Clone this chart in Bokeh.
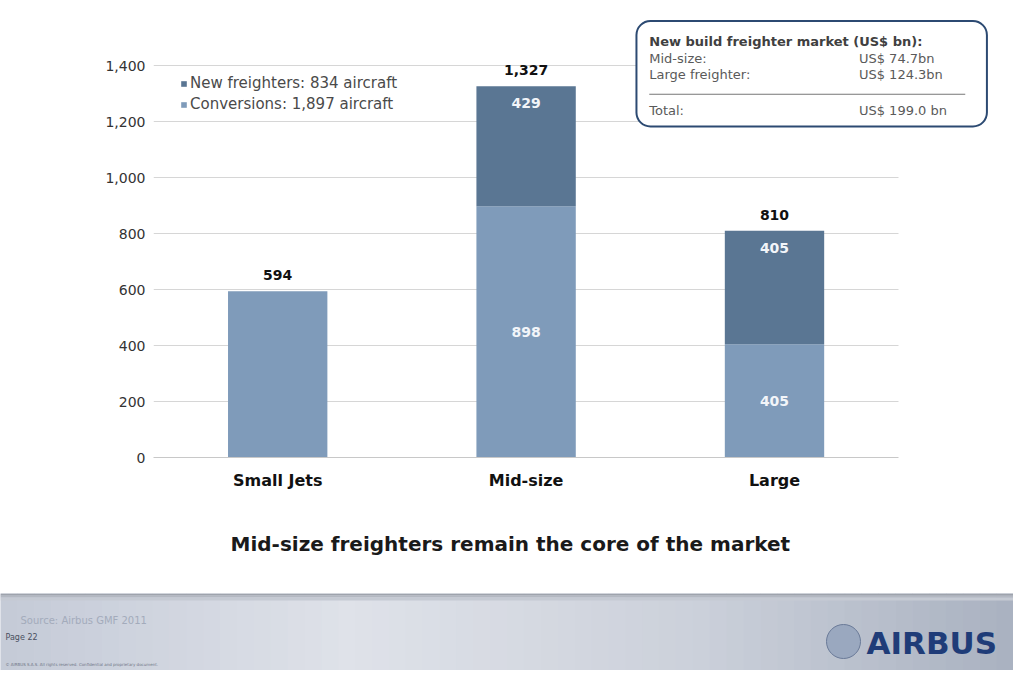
from bokeh.plotting import figure
from bokeh.models import (ColumnDataSource, Range1d, FixedTicker, NumeralTickFormatter, Title,
                          Legend, LegendItem, LabelSet, Label, BoxAnnotation, Arrow)
from bokeh.core.properties import value
from bokeh.layouts import column
from bokeh.embed import file_html
from bokeh.resources import INLINE

# ---------------- data ----------------
categories = ["Small Jets", "Mid-size", "Large"]
conversions = [594, 898, 405]
new_freighters = [0, 429, 405]
y_ticks = [0, 200, 400, 600, 800, 1000, 1200, 1400]
market_segments = ["Mid-size:", "Large freighter:"]
market_values = [74.7, 124.3]
chart_title = "Mid-size freighters remain the core of the market"
box_title = "New build freighter market (US$ bn):"
source_note = "Source: Airbus GMF 2011"
page_note = "Page 22"
copyright_note = "© AIRBUS S.A.S. All rights reserved. Confidential and proprietary document."

FNAME = "DejaVu Sans"
FONT = value(FNAME)
C_CONV = "#7f9bba"
C_NEW = "#5a7693"
TXT = "#333333"

# ---------------- layout geometry (figure pixels) ----------------
W, H_MAIN, H_FOOT = 1013, 593, 77
SX, SY = 1013 / 1029, 670 / 686          # reference px -> figure px
FL, FR, FT, FB = 153, 995, 0, 457         # frame edges in figure px
UX = 248.4                                # px per category slot
YTOP = 1633.0
UY = (FB - FT) / YTOP                     # px per aircraft


def ux(rx):
    return (rx * SX - FL) / UX


def uy(ry):
    return (FB - ry * SY) / UY


totals = [c + n for c, n in zip(conversions, new_freighters)]
xpos = [i + 0.5 for i in range(len(categories))]

src = ColumnDataSource(dict(x=xpos, conv=conversions, new=new_freighters,
                            total=totals, total_txt=[f"{t:,}" for t in totals]))

p = figure(x_range=Range1d(0, (FR - FL) / UX), y_range=Range1d(0, YTOP),
           width=W, height=H_MAIN, output_backend="svg", toolbar_location=None,
           min_border_left=FL, min_border_right=W - FR, min_border_top=FT,
           min_border_bottom=H_MAIN - FB)
p.outline_line_color = None
p.background_fill_color = "white"
p.border_fill_color = "white"
p.frame_align = False

rs = p.vbar_stack(["conv", "new"], x="x", width=0.4, source=src,
                  color=[C_CONV, C_NEW], line_color=None)

# y axis
p.yaxis.ticker = FixedTicker(ticks=y_ticks)
p.yaxis.formatter = NumeralTickFormatter(format="0,0")
p.yaxis.axis_line_color = None
p.yaxis.major_tick_line_color = None
p.yaxis.major_tick_out = 0
p.yaxis.minor_tick_line_color = None
p.yaxis.major_label_text_font = FNAME
p.yaxis.major_label_text_font_size = "14px"
p.yaxis.major_label_text_color = TXT
p.yaxis.major_label_standoff = 8

# x axis
p.xaxis.ticker = FixedTicker(ticks=xpos)
p.xaxis.major_label_overrides = {x: c for x, c in zip(xpos, categories)}
p.xaxis.bounds = (0, len(categories))
p.xaxis.axis_line_color = "#c8c8c8"
p.xaxis.major_tick_line_color = None
p.xaxis.major_tick_out = 0
p.xaxis.minor_tick_line_color = None
p.xaxis.major_label_text_font = FNAME
p.xaxis.major_label_text_font_size = "16px"
p.xaxis.major_label_text_font_style = "bold"
p.xaxis.major_label_text_color = "#111111"
p.xaxis.major_label_standoff = 13

# chart title below the chart
p.add_layout(Title(text=chart_title, align="left", offset=230 - FL, standoff=75,
                   text_font=FNAME, text_font_size="20px", text_font_style="bold",
                   text_color="#1a1a1a"), "below")

p.xgrid.grid_line_color = None
p.ygrid.grid_line_color = "#d6d6d6"
p.ygrid.cross_bounds = (0, len(categories))

# legend
legend = Legend(items=[
    LegendItem(label=f"New freighters: {sum(new_freighters):,} aircraft", renderers=[rs[1]]),
    LegendItem(label=f"Conversions: {sum(conversions):,} aircraft", renderers=[rs[0]]),
], location=(27, 343), border_line_color=None, background_fill_alpha=0,
    glyph_width=7, glyph_height=7, label_height=20, label_standoff=3, spacing=1, padding=0,
    label_text_font=FNAME, label_text_font_size="15px", label_text_color="#4a4a4a")
p.add_layout(legend)

# total labels
p.add_layout(LabelSet(x="x", y="total", text="total_txt", source=src, y_offset=16,
                      text_align="center", text_baseline="middle", text_font=FONT,
                      text_font_size="14px", text_font_style="bold", text_color="#111111"))

# inner labels
inner = [i for i, n in enumerate(new_freighters) if n > 0]
src_in = ColumnDataSource(dict(x=[xpos[i] for i in inner],
                               conv_mid=[conversions[i] / 2 for i in inner],
                               conv_txt=[f"{conversions[i]:,}" for i in inner],
                               total=[totals[i] for i in inner],
                               new_txt=[f"{new_freighters[i]:,}" for i in inner]))
p.add_layout(LabelSet(x="x", y="conv_mid", text="conv_txt", source=src_in,
                      text_align="center", text_baseline="middle", text_font=FONT,
                      text_font_size="14px", text_font_style="bold", text_color="#f2f5f9"))
p.add_layout(LabelSet(x="x", y="total", text="new_txt", source=src_in, y_offset=-17,
                      text_align="center", text_baseline="middle", text_font=FONT,
                      text_font_size="14px", text_font_style="bold", text_color="#f2f5f9"))

# market box (top right)
p.add_layout(BoxAnnotation(left=ux(646), right=ux(1002), bottom=uy(129), top=uy(21),
                           fill_color="white", fill_alpha=1, line_color="#2c4a72",
                           line_alpha=1, line_width=2, border_radius=14, level="overlay"))
p.add_layout(Label(x=ux(659), y=uy(42), text=box_title, text_baseline="middle",
                   text_font=FNAME, text_font_size="13px", text_font_style="bold",
                   text_color="#404040", level="overlay"))
row_y = [uy(59), uy(76)]
mk_src = ColumnDataSource(dict(x0=[ux(659)] * len(market_segments),
                               x1=[ux(872)] * len(market_segments),
                               y=row_y[:len(market_segments)], seg=market_segments,
                               val=[f"US$ {v:.1f}bn" for v in market_values]))
p.add_layout(LabelSet(x="x0", y="y", text="seg", source=mk_src, text_baseline="middle",
                      text_font=FONT, text_font_size="13px", text_color="#5a5a5a", level="overlay"))
p.add_layout(LabelSet(x="x1", y="y", text="val", source=mk_src, text_baseline="middle",
                      text_font=FONT, text_font_size="13px", text_color="#5a5a5a", level="overlay"))
p.add_layout(Arrow(end=None, x_start=ux(659), x_end=ux(980), y_start=uy(96), y_end=uy(96),
                   line_color="#777777", line_width=1, level="overlay"))
p.add_layout(Label(x=ux(659), y=uy(113), text="Total:", text_baseline="middle",
                   text_font=FNAME, text_font_size="13px", text_color="#5a5a5a", level="overlay"))
p.add_layout(Label(x=ux(872), y=uy(113), text=f"US$ {sum(market_values):.1f} bn",
                   text_baseline="middle", text_font=FNAME, text_font_size="13px",
                   text_color="#5a5a5a", level="overlay"))

# ---------------- footer ----------------
f = figure(width=W, height=H_FOOT, x_range=Range1d(0, W), y_range=Range1d(H_FOOT, 0),
           output_backend="svg", toolbar_location=None, x_axis_type=None, y_axis_type=None,
           min_border=0, outline_line_color=None)
f.frame_align = False
f.background_fill_color = "#d3d8e2"
f.border_fill_color = "#d3d8e2"


def _mix(c1, c2, t):
    a = [int(c1[i:i + 2], 16) for i in (1, 3, 5)]
    b = [int(c2[i:i + 2], 16) for i in (1, 3, 5)]
    return "#" + "".join(f"{round(x + (y - x) * t):02x}" for x, y in zip(a, b))


stops = [(0, "#c4cad7"), (350, "#dfe2e9"), (700, "#cbd0da"), (W, "#a9b1c0")]
n_strip = 60
lefts, rights, cols = [], [], []
for k in range(n_strip):
    x0 = W * k / n_strip
    xc = x0 + W / n_strip / 2
    for (a, ca), (b, cb) in zip(stops[:-1], stops[1:]):
        if a <= xc <= b:
            cols.append(_mix(ca, cb, (xc - a) / (b - a)))
            break
    lefts.append(x0)
    rights.append(W * (k + 1) / n_strip + 0.5)
f.quad(left=lefts, right=rights, top=[0] * n_strip, bottom=[H_FOOT] * n_strip, color=cols,
       line_color=None)
f.quad(left=[0, 0, 0], right=[W, W, W], top=[0, 2, 4], bottom=[2, 4, 7],
       color=["#9ea3ac", "#b3b8c1", "#c5cad3"], line_color=None)

f.text(x=[20], y=[27], text=[source_note], text_font=FONT, text_font_size="10px",
       text_color="#a3abbb", text_baseline="middle")
f.text(x=[5], y=[44], text=[page_note], text_font=FONT, text_font_size="8px",
       text_color="#4a5060", text_baseline="middle")
f.text(x=[5], y=[71], text=[copyright_note], text_font=FONT, text_font_size="4px",
       text_color="#6f7585", text_baseline="middle")
f.scatter(x=[843], y=[48], size=34, fill_color="#9aa8bf", line_color="#6a7a98", line_width=1)
f.text(x=[866], y=[49], text=["AIRBUS"], text_font=FONT, text_font_size="31px",
       text_font_style="bold", text_color="#1f3c78", text_baseline="middle")

layout = column(p, f, spacing=0)
open("out.html", "w").write(file_html(layout, INLINE))
